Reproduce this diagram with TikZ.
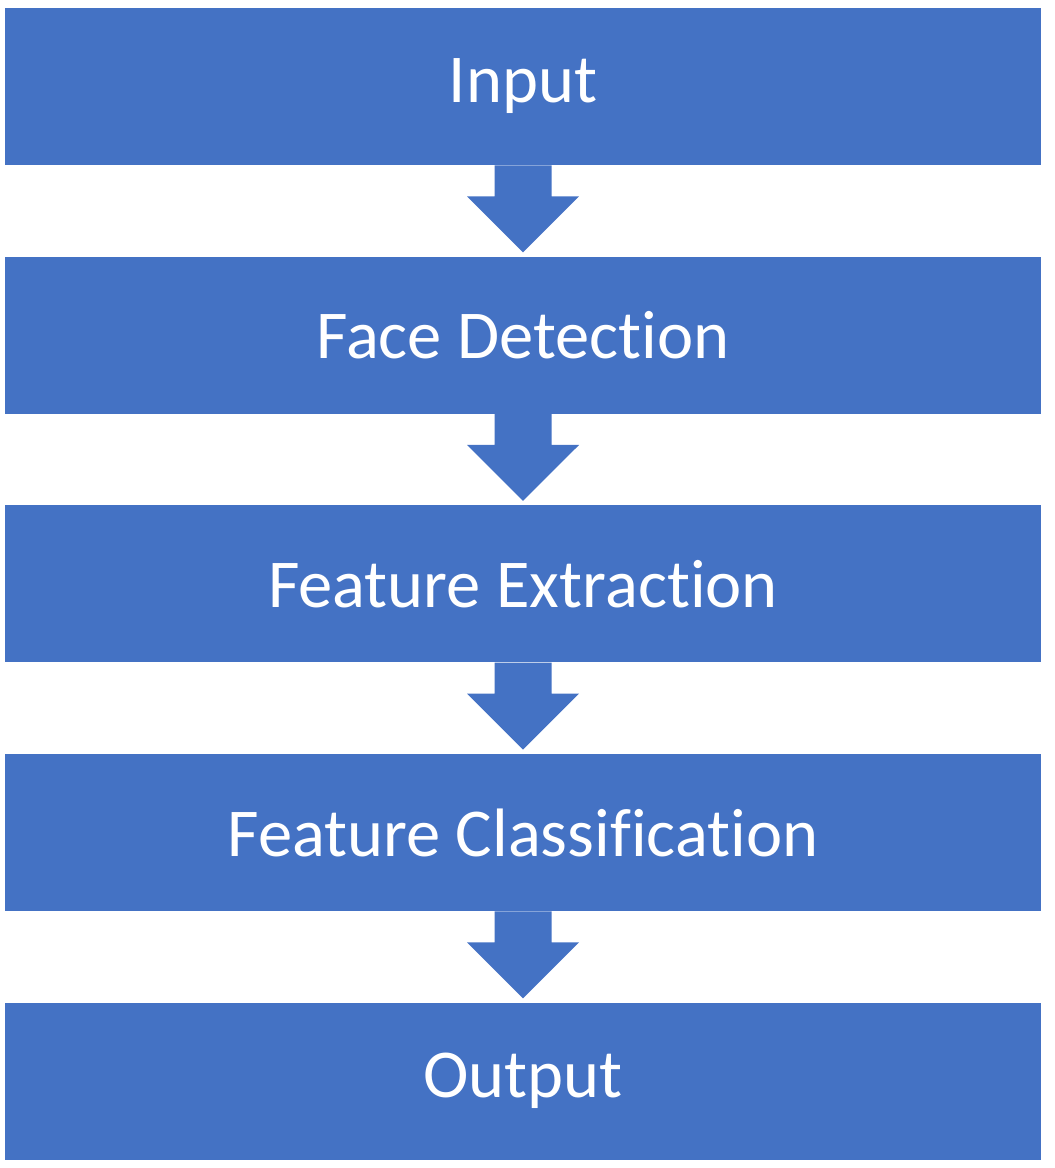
\documentclass[tikz,border=0pt]{standalone}
\usepackage{fontspec}
\setmainfont[Ligatures={NoCommon}]{Carlito}
\usetikzlibrary{calc,%
		positioning}
\definecolor{boxblue}{HTML}{4472C4}
\tikzset{stage/.style={fill=boxblue, text=white, minimum width=20.72cm, minimum height=3.14cm,
		inner sep=0pt, font=\fontsize{39}{47}\selectfont},
	flow/.style={fill=boxblue}}

\begin{document}
\begin{tikzpicture}[x=0.02cm,y=-0.02cm]
\useasboundingbox (0,0) rectangle (1054,1168);
%blocchi
\node[stage] (in) at (523,86.5) {Input};
\node[stage, below=1.82cm of in] (fd) {Face Detection};
\node[stage, below=1.82cm of fd] (fe) {Feature Extraction};
\node[stage, below=1.82cm of fe] (fc) {Feature Classification};
\node[stage, below=1.82cm of fc] (out) {Output};
%frecce
\foreach \a/\b in {in/fd, fd/fe, fe/fc, fc/out}{
\fill[flow] ($(\a.south)+(-28.5,0)$) -- ($(\a.south)+(28.5,0)$) -- ($(\a.south)+(28.5,31)$)
	-- ($(\a.south)+(56,31)$) -- ($(\b.north)+(0,-4)$) -- ($(\a.south)+(-56,31)$)
	-- ($(\a.south)+(-28.5,31)$) -- cycle;
}
\end{tikzpicture}
\end{document}
